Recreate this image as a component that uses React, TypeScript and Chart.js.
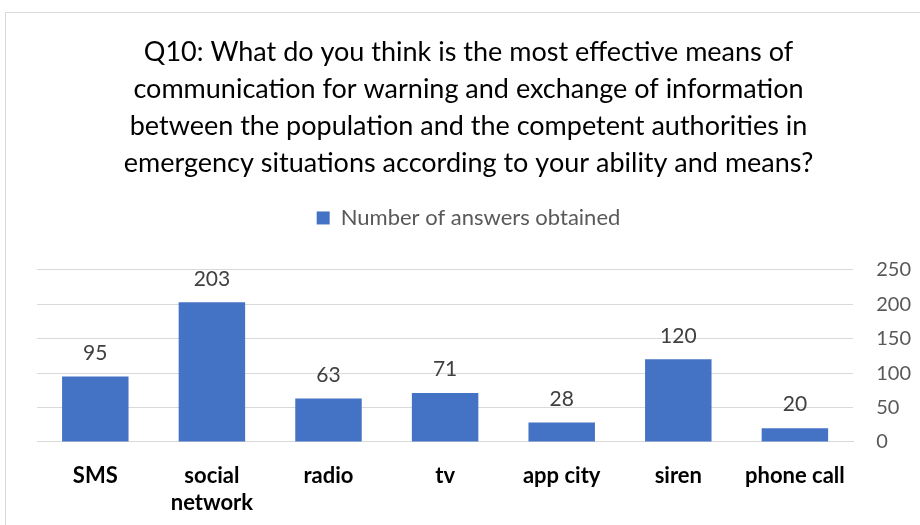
import React, { useEffect, useRef } from "react";
import { Chart, registerables } from "chart.js";

Chart.register(...registerables);

const categories: (string | string[])[] = ["SMS", ["social", "network"], "radio", "tv", "app city", "siren", "phone call"];
const answers: number[] = [95, 203, 63, 71, 28, 120, 20];
const seriesName = "Number of answers obtained";
const titleLines: string[] = [
  "Q10: What do you think is the most effective means of",
  "communication for warning and exchange of information",
  "between the population and the competent authorities in",
  "emergency situations according to your ability and means?",
];

const FONT = "Lato, 'Noto Sans', sans-serif";

const dataLabels = {
  id: "dataLabels",
  afterDatasetsDraw(chart: any) {
    const ctx = chart.ctx;
    const meta = chart.getDatasetMeta(0);
    ctx.save();
    ctx.font = `21px ${FONT}`;
    ctx.fillStyle = "#404040";
    ctx.textAlign = "center";
    ctx.textBaseline = "bottom";
    meta.data.forEach((bar: any, i: number) => {
      ctx.fillText(String(chart.data.datasets[0].data[i]), bar.x, bar.y - 13);
    });
    ctx.restore();
  },
};

const legendGap = {
  id: "legendGap",
  beforeInit(chart: any) {
    const legend = chart.legend;
    if (!legend) return;
    const origFit = legend.fit;
    legend.fit = function () {
      origFit.call(this);
      this.height += 31;
    };
  },
};

export default function App() {
  const ref = useRef<HTMLCanvasElement | null>(null);
  useEffect(() => {
    if (!ref.current) return;
    const chart = new Chart(ref.current, {
      type: "bar",
      data: {
        labels: categories,
        datasets: [
          {
            label: seriesName,
            data: answers,
            backgroundColor: "#4472C4",
            barPercentage: 0.57,
            categoryPercentage: 1,
          },
        ],
      },
      options: {
        animation: false,
        responsive: false,
        layout: { padding: { left: 3, right: 6, top: 20, bottom: 0 } },
        plugins: {
          title: {
            display: true,
            text: titleLines,
            color: "#000000",
            font: { family: FONT, size: 27, weight: "normal", lineHeight: 1.37 },
            padding: { top: 14, bottom: 15 },
          },
          legend: {
            display: true,
            labels: {
              color: "#595959",
              font: { family: FONT, size: 22 },
              boxWidth: 13,
              boxHeight: 13,
              padding: 10,
            },
          },
          tooltip: { enabled: false },
        },
        scales: {
          x: {
            grid: { display: false, drawTicks: false },
            border: { display: true, color: "#d9d9d9" },
            ticks: {
              color: "#000000",
              font: { family: FONT, size: 22, weight: "bold", lineHeight: 1.23 },
              padding: 20,
              maxRotation: 0,
              autoSkip: false,
            },
          },
          y: {
            position: "right",
            min: 0,
            max: 250,
            grid: { color: "#d9d9d9", drawTicks: false },
            border: { display: false },
            ticks: {
              stepSize: 50,
              color: "#595959",
              font: { family: FONT, size: 20 },
              padding: 23,
            },
          },
          spacer: {
            type: "linear",
            position: "left",
            display: true,
            grid: { display: false, drawTicks: false },
            border: { display: false },
            ticks: { display: false },
            afterFit(scale: any) {
              scale.width = 34;
            },
          },
        },
      },
      plugins: [dataLabels, legendGap],
    });
    return () => chart.destroy();
  }, []);
  return (
    <div style={{ position: "fixed", left: 0, top: 0, width: 920, height: 525, background: "#fff", overflow: "hidden" }}>
      <div style={{ position: "absolute", left: 5, top: 12, width: 940, height: 540, border: "1px solid #d9d9d9" }} />
      <canvas ref={ref} width={940} height={536} style={{ position: "absolute", left: 0, top: 0 }} />
    </div>
  );
}
